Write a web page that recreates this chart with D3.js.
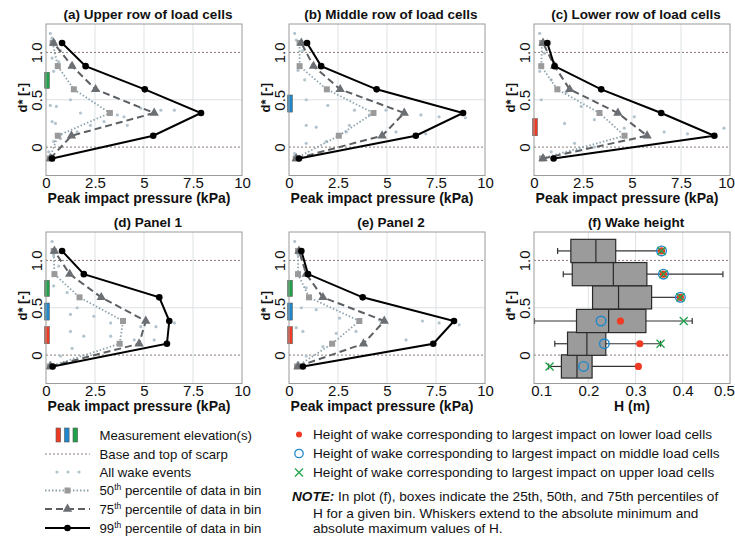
<!DOCTYPE html>
<html>
<head>
<meta charset="utf-8">
<script src="https://cdn.jsdelivr.net/npm/d3@7"></script>
<style>
  body { margin: 0; background: #fff; }
  svg text { font-family: "Liberation Sans", Arial, sans-serif; fill: #111; }
</style>
</head>
<body>
<div id="chart"></div>
<script>
// bin centres of d* (bottom to top)
var dBins = [-0.12, 0.12, 0.36, 0.61, 0.855, 1.10];

// peak impact pressure (kPa) per bin, percentiles
var a99 = [0.31, 5.47, 7.91, 5.04, 2.02, 0.82];
var a75 = [0.22, 1.30, 5.52, 2.53, 1.33, 0.39];
var a50 = [0.19, 0.60, 3.26, 1.42, 0.60, 0.34];
var b99 = [0.51, 6.47, 8.88, 4.47, 1.64, 0.92];
var b75 = [0.37, 4.75, 5.88, 2.61, 1.25, 0.63];
var b50 = [0.34, 2.54, 4.31, 1.93, 0.54, 0.54];
var c99 = [1.00, 9.20, 6.49, 3.43, 1.05, 0.68];
var c75 = [0.46, 5.77, 4.28, 1.82, 1.05, 0.46];
var c50 = [0.41, 4.62, 3.34, 1.19, 0.37, 0.41];
var d99 = [0.34, 6.17, 6.29, 5.78, 1.93, 0.82];
var d75 = [0.22, 4.75, 5.09, 2.82, 1.21, 0.43];
var d50 = [0.19, 3.76, 3.93, 1.71, 0.43, 0.39];
var e99 = [0.71, 7.36, 8.42, 3.76, 0.97, 0.63];
var e75 = [0.46, 3.80, 4.86, 1.73, 0.88, 0.51];
var e50 = [0.41, 2.20, 3.59, 1.02, 0.46, 0.46];

// all wake events [pressure, d*]
var aAll = [[0.22,1.20],[0.31,1.15],[0.48,1.08],[0.74,1.02],[0.31,0.94],[0.65,0.90],[0.39,0.80],[1.25,0.50],[0.53,0.43],[0.22,0.44],[0.31,0.27],[0.48,0.25],[1.76,0.36],[3.64,0.34],[3.98,0.32],[4.84,0.41],[5.86,0.39],[6.55,0.39],[4.15,0.23],[2.27,0.23],[1.59,0.16],[0.74,0.09],[0.39,0.06],[0.14,-0.05],[0.22,-0.10],[0.74,0.13],[2.96,0.27]];
var bAll = [[0.29,1.20],[0.37,1.13],[0.71,1.02],[0.46,0.81],[0.80,0.71],[0.88,0.50],[1.98,0.44],[3.34,0.39],[4.10,0.34],[4.95,0.39],[6.73,0.34],[7.66,0.32],[9.00,0.31],[0.88,0.23],[1.39,0.21],[3.08,0.23],[1.90,0.06],[0.88,0.04],[0.29,-0.07],[2.92,0.16],[5.46,0.16],[6.98,0.14]];
var cAll = [[0.29,1.20],[0.37,1.10],[0.54,0.99],[0.29,0.80],[0.88,0.71],[1.64,0.58],[0.37,0.50],[2.41,0.43],[3.08,0.29],[5.12,0.32],[1.56,0.25],[4.61,0.20],[6.64,0.16],[9.69,0.20],[7.83,0.14],[2.07,0.04],[3.08,0.00],[0.88,-0.05],[0.46,-0.10]];
var dAll = [[0.31,1.20],[0.39,1.05],[0.65,0.94],[0.39,0.73],[1.08,0.66],[1.59,0.50],[1.25,0.43],[2.44,0.41],[3.30,0.34],[4.84,0.30],[5.61,0.30],[6.55,0.34],[1.25,0.25],[1.93,0.20],[3.30,0.20],[4.50,0.16],[5.52,0.16],[1.33,0.07],[0.74,-0.01],[0.22,-0.08]];
var eAll = [[0.29,1.20],[0.46,1.06],[0.54,0.83],[0.88,0.71],[0.63,0.50],[1.39,0.48],[0.37,0.29],[0.71,0.25],[2.58,0.39],[4.61,0.37],[6.81,0.36],[7.66,0.34],[8.68,0.32],[2.41,0.23],[3.42,0.25],[5.97,0.16],[1.73,0.09],[0.88,-0.01],[0.46,-0.08]];

// measurement elevations [from, to] in d*
var elevLower = [0.12, 0.30];
var elevMiddle = [0.37, 0.55];
var elevUpper = [0.62, 0.79];

// (f) wake height H (m) per bin
var hMin = [0.116, 0.129, 0.086, 0.209, 0.147, 0.135];
var hQ1  = [0.143, 0.156, 0.175, 0.209, 0.166, 0.163];
var hMed = [0.176, 0.197, 0.243, 0.264, 0.253, 0.216];
var hQ3  = [0.208, 0.237, 0.322, 0.334, 0.324, 0.258];
var hMax = [0.306, 0.353, 0.420, 0.395, 0.485, 0.355];
var hLower  = [0.306, 0.309, 0.268, 0.395, 0.359, 0.355];
var hMiddle = [0.190, 0.234, 0.227, 0.395, 0.359, 0.355];
var hUpper  = [0.118, 0.353, 0.402, 0.395, 0.359, 0.355];

var pTicks = [0, 2.5, 5, 7.5, 10];
var hTicks = [0.1, 0.2, 0.3, 0.4, 0.5];
var dTicks = [0, 0.5, 1.0];

var RED = "#ef3b24", BLUE = "#1e88cc", GREEN = "#1fa34a";
var SCARP = "#8a7a72", GRID = "#dde2e5";

var svg = d3.select("#chart").append("svg")
  .attr("width", 735).attr("height", 537);

var pw = 196, ph = 151.5;
var colX = [46, 289, 534], rowY = [24, 232];

var y = d3.scaleLinear().domain([-0.3, 1.3]).range([ph, 0]);

function frame(g, x, xTicks, gridX, title, xTitle, titleDx, lastDx) {
  // gridlines
  g.selectAll(".gx").data(gridX).enter().append("line")
    .attr("x1", function(d) { return x(d); }).attr("x2", function(d) { return x(d); })
    .attr("y1", 0).attr("y2", ph).attr("stroke", GRID).attr("stroke-width", 1);
  g.append("line").attr("x1", 0).attr("x2", pw).attr("y1", y(0.5)).attr("y2", y(0.5))
    .attr("stroke", GRID).attr("stroke-width", 1);
  // base and top of scarp
  g.selectAll(".sc").data([0, 1]).enter().append("line")
    .attr("x1", 0).attr("x2", pw)
    .attr("y1", function(d) { return y(d); }).attr("y2", function(d) { return y(d); })
    .attr("stroke", SCARP).attr("stroke-width", 1).attr("stroke-dasharray", "2,2");

  var xa = g.append("g").attr("transform", "translate(0," + ph + ")")
    .call(d3.axisBottom(x).tickValues(xTicks).tickSize(0).tickPadding(2)
      .tickFormat(function(d) { return String(d); }));
  xa.select(".domain").remove();
  xa.selectAll("text").style("font-size", "15px").style("font-family", null)
    .attr("dx", function(d, i) { return i === xTicks.length - 1 ? lastDx : 0; });

  var ya = g.append("g")
    .call(d3.axisLeft(y).tickValues(dTicks).tickSize(0)
      .tickFormat(function(d) { return d === 0 ? "0" : d.toFixed(1); }));
  ya.select(".domain").remove();
  ya.selectAll("text").style("font-size", "15px").style("font-family", null)
    .attr("x", 0).attr("y", -4).attr("dy", 0)
    .attr("text-anchor", "middle").attr("transform", "rotate(-90)");

  g.append("text").attr("transform", "translate(-19," + (ph / 2 - 2) + ") rotate(-90)")
    .attr("text-anchor", "middle").style("font-size", "13px").style("font-weight", "bold")
    .text("d* [-]");
  g.append("text").attr("x", pw / 2 + 4).attr("y", -5)
    .attr("text-anchor", "middle").style("font-size", "13.5px").style("font-weight", "bold")
    .text(title);
  g.append("text").attr("x", pw / 2 + titleDx).attr("y", ph + 27)
    .attr("text-anchor", "middle").style("font-size", "14px").style("font-weight", "bold")
    .text(xTitle);
}

function border(g) {
  g.append("rect").attr("width", pw).attr("height", ph)
    .attr("fill", "none").attr("stroke", "#9a9a9a").attr("stroke-width", 1);
}

var tri = d3.symbol().type(d3.symbolTriangle).size(38);

function pressurePanel(col, row, title, p99, p75, p50, all, elevs) {
  var g = svg.append("g").attr("transform", "translate(" + colX[col] + "," + rowY[row] + ")");
  var x = d3.scaleLinear().domain([0, 10]).range([0, pw]);
  frame(g, x, pTicks, [2.5, 5, 7.5], title, "Peak impact pressure (kPa)", -5, col === 2 ? -4 : 0);

  // all wake events
  g.selectAll(".ev").data(all).enter().append("circle")
    .attr("cx", function(d) { return x(d[0]); }).attr("cy", function(d) { return y(d[1]); })
    .attr("r", 1.6).attr("fill", "#b3c4ce");

  var line = function(vals) {
    return d3.line()
      .x(function(d) { return x(d); })
      .y(function(d, i) { return y(dBins[i]); })(vals);
  };

  // 50th
  g.append("path").attr("d", line(p50)).attr("fill", "none")
    .attr("stroke", "#8ea3ae").attr("stroke-width", 1.8).attr("stroke-dasharray", "1.5,2");
  g.selectAll(".s50").data(p50).enter().append("rect")
    .attr("x", function(d) { return x(d) - 3; })
    .attr("y", function(d, i) { return y(dBins[i]) - 3; })
    .attr("width", 6).attr("height", 6).attr("fill", "#9a9a9a");
  // 75th
  g.append("path").attr("d", line(p75)).attr("fill", "none")
    .attr("stroke", "#5c6064").attr("stroke-width", 2).attr("stroke-dasharray", "7,4");
  g.selectAll(".s75").data(p75).enter().append("path")
    .attr("d", tri)
    .attr("transform", function(d, i) { return "translate(" + x(d) + "," + y(dBins[i]) + ")"; })
    .attr("fill", "#6b6f73");
  // 99th
  g.append("path").attr("d", line(p99)).attr("fill", "none")
    .attr("stroke", "#000").attr("stroke-width", 2);
  g.selectAll(".s99").data(p99).enter().append("circle")
    .attr("cx", function(d) { return x(d); })
    .attr("cy", function(d, i) { return y(dBins[i]); })
    .attr("r", 3.3).attr("fill", "#000");

  // measurement elevation bars
  g.selectAll(".el").data(elevs).enter().append("rect")
    .attr("x", -1.3).attr("width", 4.6)
    .attr("y", function(d) { return y(d[1]); })
    .attr("height", function(d) { return y(d[0]) - y(d[1]); })
    .attr("fill", function(d) { return d[2]; })
    .attr("stroke", "#555").attr("stroke-width", 0.6);

  border(g);
}

pressurePanel(0, 0, "(a) Upper row of load cells", a99, a75, a50, aAll, [elevUpper.concat(GREEN)]);
pressurePanel(1, 0, "(b) Middle row of load cells", b99, b75, b50, bAll, [elevMiddle.concat(BLUE)]);
pressurePanel(2, 0, "(c) Lower row of load cells", c99, c75, c50, cAll, [elevLower.concat(RED)]);
var allElev = [elevLower.concat(RED), elevMiddle.concat(BLUE), elevUpper.concat(GREEN)];
pressurePanel(0, 1, "(d) Panel 1", d99, d75, d50, dAll, allElev);
pressurePanel(1, 1, "(e) Panel 2", e99, e75, e50, eAll, allElev);

// (f) wake height
(function() {
  var g = svg.append("g").attr("transform", "translate(" + colX[2] + "," + rowY[1] + ")");
  var x = d3.scaleLinear().domain([0.085, 0.5]).range([0, pw]);
  frame(g, x, hTicks, [0.2, 0.3, 0.4], "(f) Wake height", "H (m)", 0, -6);

  var bh = y(0) - y(0.245);
  var rows = dBins.map(function(d, i) {
    return {d: d, min: hMin[i], q1: hQ1[i], med: hMed[i], q3: hQ3[i], max: hMax[i],
            lo: hLower[i], mid: hMiddle[i], up: hUpper[i]};
  });
  var r = g.selectAll(".row").data(rows).enter().append("g")
    .attr("transform", function(d) { return "translate(0," + y(d.d) + ")"; });

  // whiskers
  r.append("line").attr("x1", function(d) { return x(d.min); }).attr("x2", function(d) { return x(d.q1); })
    .attr("stroke", "#333").attr("stroke-width", 1.2);
  r.append("line").attr("x1", function(d) { return x(d.q3); }).attr("x2", function(d) { return x(d.max); })
    .attr("stroke", "#333").attr("stroke-width", 1.2);
  r.filter(function(d) { return d.min < d.q1; }).append("line")
    .attr("x1", function(d) { return x(d.min); }).attr("x2", function(d) { return x(d.min); })
    .attr("y1", -3).attr("y2", 3).attr("stroke", "#333").attr("stroke-width", 1.2);
  r.append("line")
    .attr("x1", function(d) { return x(d.max); }).attr("x2", function(d) { return x(d.max); })
    .attr("y1", -3).attr("y2", 3).attr("stroke", "#333").attr("stroke-width", 1.2);
  // boxes
  r.append("rect").attr("x", function(d) { return x(d.q1); })
    .attr("width", function(d) { return x(d.q3) - x(d.q1); })
    .attr("y", -bh / 2).attr("height", bh)
    .attr("fill", "#9b9b9b").attr("stroke", "#2a2a2a").attr("stroke-width", 1.2);
  r.append("line").attr("x1", function(d) { return x(d.med); }).attr("x2", function(d) { return x(d.med); })
    .attr("y1", -bh / 2).attr("y2", bh / 2).attr("stroke", "#2a2a2a").attr("stroke-width", 1.2);

  // largest-impact markers
  r.append("circle").attr("cx", function(d) { return x(d.lo); }).attr("r", 3.6).attr("fill", RED);
  r.append("circle").attr("cx", function(d) { return x(d.mid); }).attr("r", 4.8)
    .attr("fill", "none").attr("stroke", BLUE).attr("stroke-width", 1.4);
  r.append("path").attr("d", "M-4,-4L4,4M-4,4L4,-4")
    .attr("transform", function(d) { return "translate(" + x(d.up) + ",0)"; })
    .attr("stroke", GREEN).attr("stroke-width", 1.3);

  border(g);
})();

// legend, left block
var lg = svg.append("g");
var ly = [435, 454, 472, 490.5, 509, 528];
var lx0 = 45, lx1 = 90, lxm = 67.5, ltx = 99.5;
[RED, BLUE, GREEN].forEach(function(c, i) {
  lg.append("rect").attr("x", 56 + i * 8.5).attr("y", ly[0] - 7).attr("width", 4.6).attr("height", 14)
    .attr("fill", c).attr("stroke", "#555").attr("stroke-width", 0.6);
});
lg.append("line").attr("x1", lx0).attr("x2", lx1).attr("y1", ly[1]).attr("y2", ly[1])
  .attr("stroke", SCARP).attr("stroke-width", 1).attr("stroke-dasharray", "2,2");
[57, 68, 79].forEach(function(cx) {
  lg.append("circle").attr("cx", cx).attr("cy", ly[2]).attr("r", 1.6).attr("fill", "#b3c4ce");
});
lg.append("line").attr("x1", lx0).attr("x2", lx1).attr("y1", ly[3]).attr("y2", ly[3])
  .attr("stroke", "#8ea3ae").attr("stroke-width", 1.8).attr("stroke-dasharray", "1.5,2");
lg.append("rect").attr("x", lxm - 3).attr("y", ly[3] - 3).attr("width", 6).attr("height", 6).attr("fill", "#9a9a9a");
lg.append("line").attr("x1", lx0).attr("x2", lx1).attr("y1", ly[4]).attr("y2", ly[4])
  .attr("stroke", "#5c6064").attr("stroke-width", 2).attr("stroke-dasharray", "7,4");
lg.append("path").attr("d", tri).attr("transform", "translate(" + lxm + "," + ly[4] + ")").attr("fill", "#6b6f73");
lg.append("line").attr("x1", lx0).attr("x2", lx1).attr("y1", ly[5]).attr("y2", ly[5])
  .attr("stroke", "#000").attr("stroke-width", 2);
lg.append("circle").attr("cx", lxm).attr("cy", ly[5]).attr("r", 3.3).attr("fill", "#000");

function ltext(yy, s) {
  return lg.append("text").attr("x", ltx).attr("y", yy + 4.5).style("font-size", "13.2px").text(s);
}
ltext(ly[0], "Measurement elevation(s)");
ltext(ly[1], "Base and top of scarp");
ltext(ly[2], "All wake events");
[["50", ly[3]], ["75", ly[4]], ["99", ly[5]]].forEach(function(p) {
  var t = ltext(p[1], p[0]);
  t.append("tspan").attr("dy", -5).style("font-size", "8.5px").text("th");
  t.append("tspan").attr("dy", 5).text(" percentile of data in bin");
});

// legend, right block
var rx = 299, rtx = 313;
var ry = [434.5, 453.5, 472.5];
var rfs = "13.6px";
lg.append("circle").attr("cx", rx).attr("cy", ry[0]).attr("r", 3).attr("fill", RED);
lg.append("circle").attr("cx", rx).attr("cy", ry[1]).attr("r", 4.2).attr("fill", "none")
  .attr("stroke", BLUE).attr("stroke-width", 1.3);
lg.append("path").attr("d", "M-4,-4L4,4M-4,4L4,-4").attr("transform", "translate(" + rx + "," + ry[2] + ")")
  .attr("stroke", GREEN).attr("stroke-width", 1.3);
["lower", "middle", "upper"].forEach(function(w, i) {
  lg.append("text").attr("x", rtx).attr("y", ry[i] + 4.5).style("font-size", rfs)
    .text("Height of wake corresponding to largest impact on " + w + " load cells");
});
var note = lg.append("text").attr("x", 292).attr("y", 501).style("font-size", rfs);
note.append("tspan").style("font-weight", "bold").style("font-style", "italic").text("NOTE:");
note.append("tspan").text(" In plot (f), boxes indicate the 25th, 50th, and 75th percentiles of");
lg.append("text").attr("x", rtx).attr("y", 517.5).style("font-size", rfs)
  .text("H for a given bin. Whiskers extend to the absolute minimum and");
lg.append("text").attr("x", rtx).attr("y", 533).style("font-size", rfs)
  .text("absolute maximum values of H.");
</script>
</body>
</html>
